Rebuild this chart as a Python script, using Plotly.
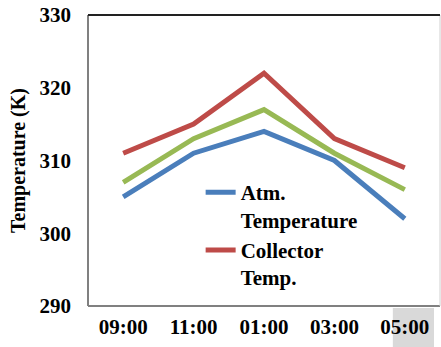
import plotly.graph_objects as go

times = ["09:00", "11:00", "01:00", "03:00", "05:00"]
atm_temp = [305, 311, 314, 310, 302]
collector_temp = [311, 315, 322, 313, 309]
other_temp = [307, 313, 317, 311, 306]

FONT = "Liberation Serif"
fig = go.Figure()
fig.add_trace(go.Scatter(x=times, y=atm_temp, mode="lines", name="Atm.<br>Temperature",
                         line=dict(color="#4a7ebb", width=5)))
fig.add_trace(go.Scatter(x=times, y=collector_temp, mode="lines", name="Collector<br>Temp.",
                         line=dict(color="#be4b48", width=5)))
fig.add_trace(go.Scatter(x=times, y=other_temp, mode="lines", name="",
                         showlegend=False, line=dict(color="#98b954", width=5)))

fig.update_layout(
    width=441, height=347,
    margin=dict(l=88, r=1, t=15, b=41),
    paper_bgcolor="white", plot_bgcolor="white",
    font=dict(family=FONT, size=20, color="black", weight="bold"),
    showlegend=True,
    legend=dict(x=0.32, y=0.46, xanchor="left", yanchor="top",
                bgcolor="rgba(0,0,0,0)", valign="top",
                font=dict(family=FONT, size=21, color="black", weight="bold"),
                tracegroupgap=0, itemwidth=30),
    xaxis=dict(type="category", range=[-0.5, 4.5], showgrid=False, zeroline=False,
               showline=False, ticks="",
               tickfont=dict(family=FONT, size=21, weight="bold"), ticklabelstandoff=6),
    yaxis=dict(range=[290, 330], dtick=10, showgrid=False, zeroline=False,
               showline=False, ticks="",
               tickfont=dict(family=FONT, size=21, weight="bold"), ticklabelstandoff=16,
               title=dict(text="Temperature (K)", standoff=8,
                          font=dict(family=FONT, size=20, weight="bold"))),
    shapes=[
        dict(type="rect", xref="paper", yref="paper", x0=0.866, x1=0.983, y0=-0.007, y1=-0.145,
             fillcolor="#d9d9d9", line=dict(width=0), layer="below"),
        dict(type="line", xref="paper", yref="paper", x0=0, x1=0, y0=0, y1=1,
             line=dict(color="#808080", width=2)),
        dict(type="line", xref="paper", yref="paper", x0=0, x1=1, y0=0, y1=0,
             line=dict(color="#808080", width=2)),
        dict(type="line", xref="paper", yref="paper", x0=1, x1=1, y0=0, y1=1,
             line=dict(color="#d0d0d0", width=1)),
        dict(type="line", xref="paper", yref="paper", x0=0, x1=1, y0=1, y1=1,
             line=dict(color="#222222", width=2)),
    ],
)

fig.write_html("out.html")
